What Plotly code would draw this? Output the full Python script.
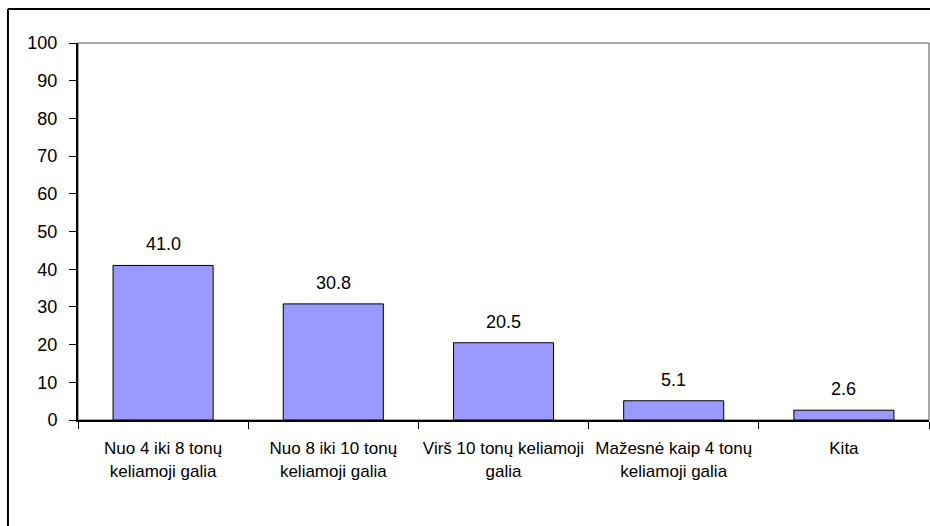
import plotly.graph_objects as go

categories = [
    "Nuo 4 iki 8 tonų<br>keliamoji galia",
    "Nuo 8 iki 10 tonų<br>keliamoji galia",
    "Virš 10 tonų keliamoji<br>galia",
    "Mažesnė kaip 4 tonų<br>keliamoji galia",
    "Kita",
]
values = [41.0, 30.8, 20.5, 5.1, 2.6]
y_ticks = [0, 10, 20, 30, 40, 50, 60, 70, 80, 90, 100]

FONT = "Liberation Sans, Arial, sans-serif"

fig = go.Figure(
    go.Bar(
        x=categories,
        y=values,
        marker=dict(color="#9999FF", line=dict(color="#000000", width=1)),
        width=0.588,
        hoverinfo="skip",
    )
)

annotations = [
    dict(x=c, y=v, xref="x", yref="y", text=f"{v:.1f}", showarrow=False,
         yanchor="bottom", yshift=9, font=dict(family=FONT, size=18, color="#000000"))
    for c, v in zip(categories, values)
]

fig.update_layout(
    width=930,
    height=526,
    margin=dict(l=78, r=1, t=43, b=106),
    paper_bgcolor="#FFFFFF",
    plot_bgcolor="#FFFFFF",
    showlegend=False,
    font=dict(family=FONT, size=17, color="#000000"),
    annotations=annotations,
    shapes=[
        dict(type="rect", xref="paper", yref="paper", x0=0, x1=1, y0=0, y1=1,
             line=dict(color="#555555", width=1), layer="below"),
        dict(type="line", xref="paper", yref="paper", x0=-0.0823, x1=1.2,
             y0=1.0902, y1=1.0902, line=dict(color="#000000", width=2)),
        dict(type="line", xref="paper", yref="paper", x0=-0.0823, x1=-0.0823,
             y0=1.0902, y1=-0.5, line=dict(color="#000000", width=2)),
    ],
)

fig.update_xaxes(
    showline=True, linecolor="#000000", linewidth=2,
    ticks="outside", tickson="boundaries", ticklen=7, tickwidth=1, tickcolor="#000000",
    showgrid=False, zeroline=False, tickangle=0, automargin=False,
    tickfont=dict(family=FONT, size=17, color="#000000"),
    ticklabelstandoff=12,
)
fig.update_yaxes(
    range=[0, 100], tickvals=y_ticks, ticktext=[str(v) for v in y_ticks],
    showline=True, linecolor="#000000", linewidth=2,
    ticks="outside", ticklen=7, tickwidth=1, tickcolor="#000000",
    showgrid=False, zeroline=False, automargin=False,
    tickfont=dict(family=FONT, size=18, color="#000000"),
    ticklabelstandoff=8,
)

fig.write_html("out.html")
